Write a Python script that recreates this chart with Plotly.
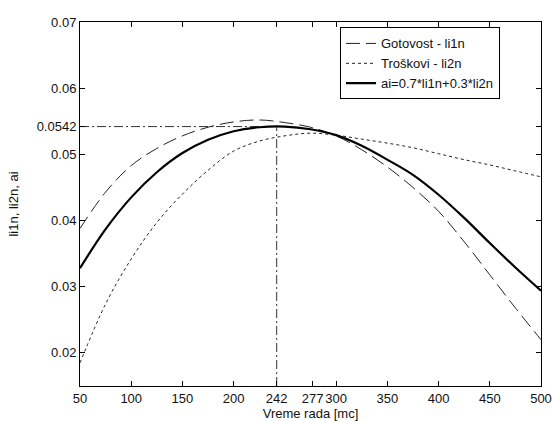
import plotly.graph_objects as go

# Data
x_vals = [50, 75, 100, 125, 150, 175, 200, 225, 250, 275, 300, 325, 350, 375, 400, 425, 450, 475, 500]
li1n = [0.0388, 0.0443, 0.0483, 0.0509, 0.0528, 0.0541, 0.0549, 0.0552, 0.0548, 0.0541, 0.0528,
        0.0507, 0.0481, 0.0450, 0.0414, 0.0368, 0.0318, 0.0268, 0.0220]
li2n = [0.0185, 0.0274, 0.0342, 0.0397, 0.0440, 0.0476, 0.0505, 0.0520, 0.0528, 0.0532, 0.0529,
        0.0523, 0.0517, 0.0510, 0.0501, 0.0492, 0.0484, 0.0475, 0.0466]
ai = [0.0328, 0.0387, 0.0435, 0.0473, 0.0502, 0.0522, 0.0535, 0.0541, 0.0542, 0.0538, 0.0529,
      0.0513, 0.0492, 0.0469, 0.0439, 0.0404, 0.0366, 0.0329, 0.0294]

opt_x = 242
opt_y = 0.0542

x_tickvals = [50, 100, 150, 200, 242, 277, 300, 350, 400, 450, 500]
x_ticktext = ["50", "100", "150", "200", "242", "277", "300", "350", "400", "450", "500"]
y_tickvals = [0.02, 0.03, 0.04, 0.05, 0.0542, 0.06, 0.07]
y_ticktext = ["0.02", "0.03", "0.04", "0.05", "0.0542", "0.06", "0.07"]

x_range = [50, 500]
y_range = [0.015, 0.07]

names = ["Gotovost - li1n", "Troškovi - li2n", "ai=0.7*li1n+0.3*li2n"]

FONT = "Liberation Sans, Arial"
fig = go.Figure()

# optimum guide lines (dash-dot)
fig.add_trace(go.Scatter(x=[x_range[0], opt_x], y=[opt_y, opt_y], mode="lines",
                         line=dict(color="#333333", width=1, dash="9px,3px,2px,3px"),
                         showlegend=False, hoverinfo="skip"))
fig.add_trace(go.Scatter(x=[opt_x, opt_x], y=[y_range[0], opt_y], mode="lines",
                         line=dict(color="#333333", width=1, dash="9px,3px,2px,3px"),
                         showlegend=False, hoverinfo="skip"))

fig.add_trace(go.Scatter(x=x_vals, y=li1n, mode="lines", name=names[0],
                         line=dict(color="#222222", width=1, dash="14px,6px", shape="spline")))
fig.add_trace(go.Scatter(x=x_vals, y=li2n, mode="lines", name=names[1],
                         line=dict(color="#222222", width=1, dash="3px,3px", shape="spline")))
fig.add_trace(go.Scatter(x=x_vals, y=ai, mode="lines", name=names[2],
                         line=dict(color="black", width=2.2, shape="spline")))

axis_common = dict(showgrid=False, zeroline=False, showline=True, linecolor="black", linewidth=1,
                   mirror="ticks", ticks="inside", ticklen=5, tickcolor="black", tickangle=0,
                   automargin=False, ticklabeloverflow="allow",
                   tickfont=dict(family=FONT, size=13, color="#111111"))

fig.update_xaxes(range=x_range, tickmode="array", tickvals=x_tickvals, ticktext=x_ticktext,
                 title=dict(text="Vreme rada [mc]",
                            font=dict(family=FONT, size=13, color="#111111")),
                 **axis_common)
fig.update_yaxes(range=y_range, tickmode="array", tickvals=y_tickvals, ticktext=y_ticktext,
                 title=dict(text="li1n, li2n, ai",
                            font=dict(family=FONT, size=13, color="#111111")),
                 **axis_common)

fig.update_layout(
    width=552, height=421,
    margin=dict(l=80, r=11, t=22, b=35),
    paper_bgcolor="white", plot_bgcolor="white",
    legend=dict(x=0.564, y=0.985, xanchor="left", yanchor="top",
                bgcolor="white", bordercolor="black", borderwidth=1,
                font=dict(family=FONT, size=13, color="#111111"),
                itemwidth=30, tracegroupgap=0),
    showlegend=True,
)

fig.write_html("out.html")
